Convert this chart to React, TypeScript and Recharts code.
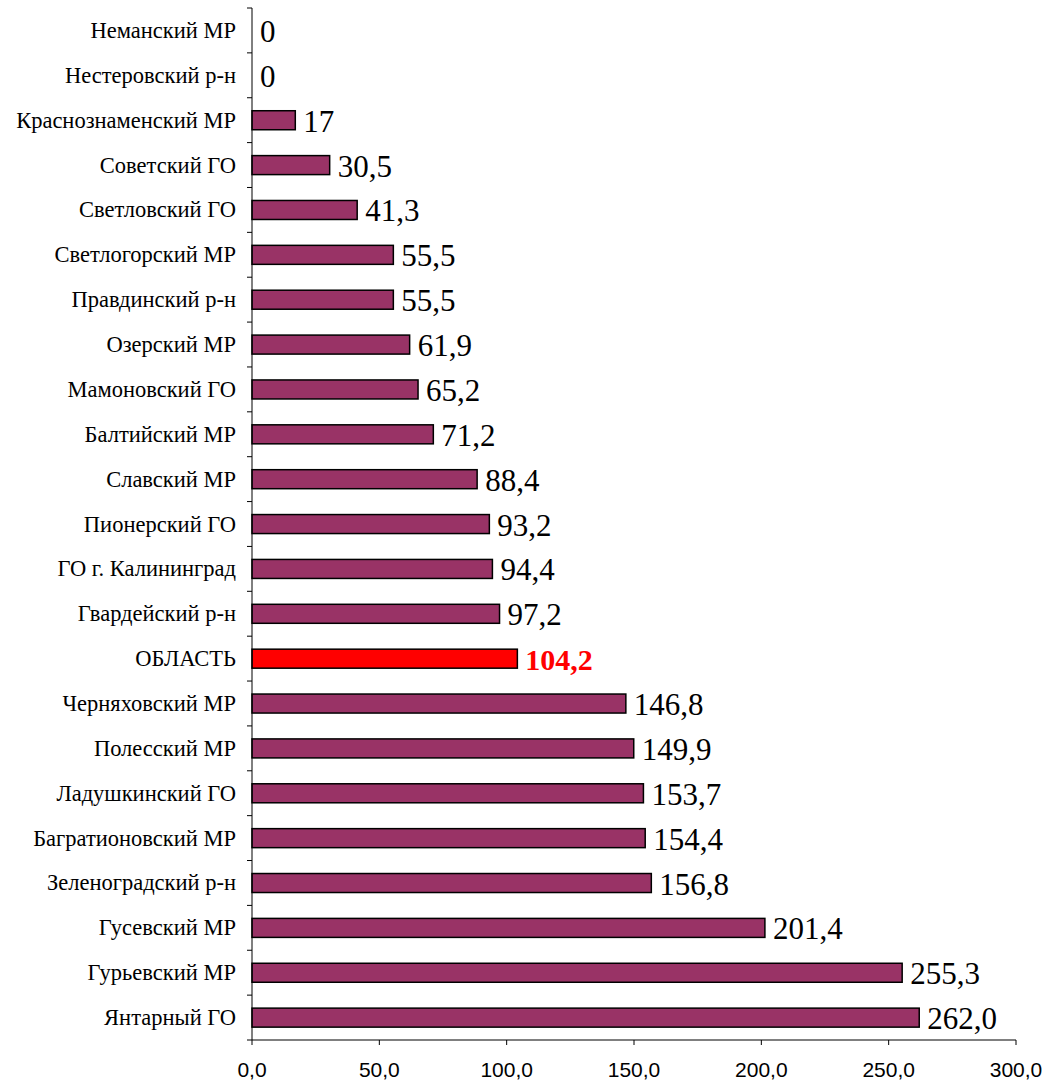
import React from "react";
import { BarChart, Bar, XAxis, YAxis } from "recharts";

const districts = [
  "Неманский МР",
  "Нестеровский р-н",
  "Краснознаменский МР",
  "Советский ГО",
  "Светловский ГО",
  "Светлогорский МР",
  "Правдинский р-н",
  "Озерский МР",
  "Мамоновский ГО",
  "Балтийский МР",
  "Славский МР",
  "Пионерский ГО",
  "ГО г. Калининград",
  "Гвардейский р-н",
  "ОБЛАСТЬ",
  "Черняховский МР",
  "Полесский МР",
  "Ладушкинский ГО",
  "Багратионовский МР",
  "Зеленоградский р-н",
  "Гусевский МР",
  "Гурьевский МР",
  "Янтарный ГО",
];

const values = [
  0, 0, 17, 30.5, 41.3, 55.5, 55.5, 61.9, 65.2, 71.2, 88.4, 93.2, 94.4, 97.2,
  104.2, 146.8, 149.9, 153.7, 154.4, 156.8, 201.4, 255.3, 262.0,
];

const valueLabels = [
  "0", "0", "17", "30,5", "41,3", "55,5", "55,5", "61,9", "65,2", "71,2",
  "88,4", "93,2", "94,4", "97,2", "104,2", "146,8", "149,9", "153,7",
  "154,4", "156,8", "201,4", "255,3", "262,0",
];

const xTicks = [0, 50, 100, 150, 200, 250, 300];

const TOTAL = "ОБЛАСТЬ";
const BAR = "#993366";
const HIGHLIGHT = "#FF0000";
const SERIF = '"Liberation Serif", "Times New Roman", serif';
const SANS = '"Liberation Sans", Arial, sans-serif';

const data = districts.map((name, i) => ({ name, value: values[i], label: valueLabels[i] }));

const CHART_H = 1082;
const TOP = 8;
const X_AXIS_H = 42;
const Y_AXIS_W = 252;
const band = (CHART_H - TOP - X_AXIS_H) / districts.length;
const AXIS_Y = CHART_H - X_AXIS_H;

function CategoryTick(props: any) {
  const { y, payload, index } = props;
  const axisX = Y_AXIS_W;
  return (
    <g>
      <line x1={axisX - 5} x2={axisX} y1={y - band / 2} y2={y - band / 2} stroke="#000" />
      {index === districts.length - 1 && (
        <line x1={axisX - 5} x2={axisX} y1={y + band / 2} y2={y + band / 2} stroke="#000" />
      )}
      <text
        x={axisX - 16}
        y={y}
        textAnchor="end"
        dominantBaseline="central"
        fontFamily={SERIF}
        fontSize={22.5}
        fill="#000"
      >
        {payload.value}
      </text>
    </g>
  );
}

function ValueTick(props: any) {
  const { x, payload } = props;
  return (
    <text
      x={x}
      y={AXIS_Y + 37}
      textAnchor="middle"
      fontFamily={SANS}
      fontSize={21}
      fill="#000"
    >
      {payload.value.toFixed(1).replace(".", ",")}
    </text>
  );
}

// rect + value label drawn together so zero bars still get their label
function BarWithLabel(props: any) {
  const { x, y, width, height, payload } = props;
  const isTotal = payload.name === TOTAL;
  const w = Math.max(0, width || 0);
  return (
    <g>
      {w > 0 && (
        <rect
          x={x}
          y={y}
          width={w}
          height={height}
          fill={isTotal ? HIGHLIGHT : BAR}
          stroke="#000"
          strokeWidth={1.5}
        />
      )}
      <text
        x={x + w + 8}
        y={y + height / 2 + 1}
        dominantBaseline="central"
        fontFamily={SERIF}
        fontSize={isTotal ? 30 : 31}
        fontWeight={isTotal ? "bold" : "normal"}
        fill={isTotal ? HIGHLIGHT : "#000"}
      >
        {payload.label}
      </text>
    </g>
  );
}

export default function App() {
  return (
    <div style={{ position: "absolute", left: 0, top: 0, background: "#fff" }}>
      <BarChart
        width={1047}
        height={CHART_H}
        data={data}
        layout="vertical"
        margin={{ top: TOP, right: 31, bottom: 0, left: 0 }}
        barCategoryGap={0}
      >
        <XAxis
          type="number"
          domain={[0, 300]}
          ticks={xTicks}
          interval={0}
          height={X_AXIS_H}
          tickSize={5}
          axisLine={{ stroke: "#000" }}
          tickLine={{ stroke: "#000" }}
          tick={<ValueTick />}
        />
        <YAxis
          type="category"
          dataKey="name"
          width={Y_AXIS_W}
          interval={0}
          tickLine={false}
          axisLine={{ stroke: "#000" }}
          tick={<CategoryTick />}
        />
        <Bar
          dataKey="value"
          barSize={19}
          isAnimationActive={false}
          shape={<BarWithLabel />}
        />
      </BarChart>
    </div>
  );
}
